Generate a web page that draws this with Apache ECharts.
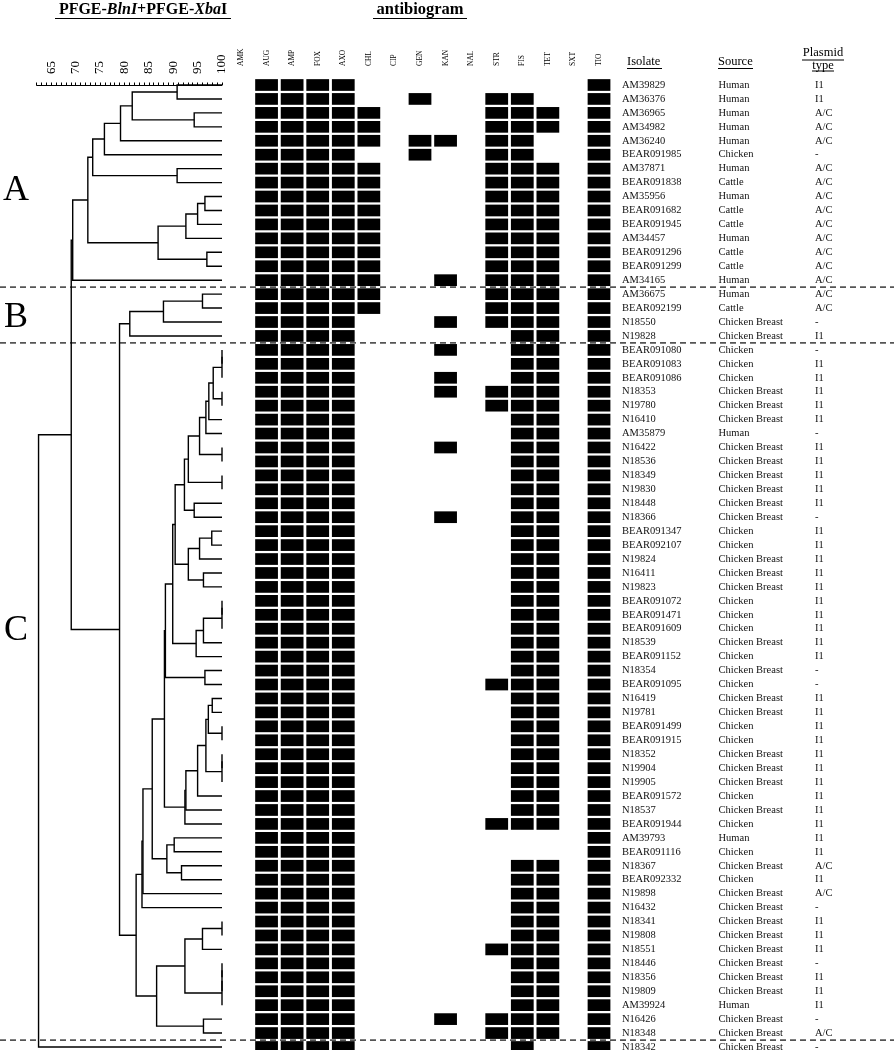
<!DOCTYPE html>
<html><head><meta charset="utf-8">
<script src="https://cdn.jsdelivr.net/npm/echarts@6/dist/echarts.min.js"></script>
<style>html,body{margin:0;padding:0;background:#fff}#c{width:894px;height:1050px}</style>
</head><body><div id="c"></div>
<script>
// ---------------- data ----------------
const antibiotics = ['AMK','AUG','AMP','FOX','AXO','CHL','CIP','GEN','KAN','NAL','STR','FIS','TET','SXT','TIO'];
const isolates = ['AM39829','AM36376','AM36965','AM34982','AM36240','BEAR091985','AM37871','BEAR091838','AM35956','BEAR091682',
 'BEAR091945','AM34457','BEAR091296','BEAR091299','AM34165','AM36675','BEAR092199','N18550','N19828','BEAR091080',
 'BEAR091083','BEAR091086','N18353','N19780','N16410','AM35879','N16422','N18536','N18349','N19830',
 'N18448','N18366','BEAR091347','BEAR092107','N19824','N16411','N19823','BEAR091072','BEAR091471','BEAR091609',
 'N18539','BEAR091152','N18354','BEAR091095','N16419','N19781','BEAR091499','BEAR091915','N18352','N19904',
 'N19905','BEAR091572','N18537','BEAR091944','AM39793','BEAR091116','N18367','BEAR092332','N19898','N16432',
 'N18341','N19808','N18551','N18446','N18356','N19809','AM39924','N16426','N18348','N18342'];
const CB = 'Chicken Breast';
const sources = ['Human','Human','Human','Human','Human','Chicken','Human','Cattle','Human','Cattle',
 'Cattle','Human','Cattle','Cattle','Human','Human','Cattle',CB,CB,'Chicken',
 'Chicken','Chicken',CB,CB,CB,'Human',CB,CB,CB,CB,
 CB,CB,'Chicken','Chicken',CB,CB,CB,'Chicken','Chicken','Chicken',
 CB,'Chicken',CB,'Chicken',CB,CB,'Chicken','Chicken',CB,CB,
 CB,'Chicken',CB,'Chicken','Human','Chicken',CB,'Chicken',CB,CB,
 CB,CB,CB,CB,CB,CB,'Human',CB,CB,CB];
const plasmidTypes = ['I1','I1','A/C','A/C','A/C','-','A/C','A/C','A/C','A/C',
 'A/C','A/C','A/C','A/C','A/C','A/C','A/C','-','I1','-',
 'I1','I1','I1','I1','I1','-','I1','I1','I1','I1',
 'I1','-','I1','I1','I1','I1','I1','I1','I1','I1',
 'I1','I1','-','-','I1','I1','I1','I1','I1','I1',
 'I1','I1','I1','I1','I1','I1','A/C','I1','A/C','-',
 'I1','I1','I1','-','I1','I1','I1','-','A/C','-'];
// resistance profile per isolate, one character per antibiotic (1 = resistant)
const resistance = [
 '011110000000001','011110010011001','011111000011101','011111000011101','011111011011001',
 '011110010011001','011111000011101','011111000011101','011111000011101','011111000011101',
 '011111000011101','011111000011101','011111000011101','011111000011101','011111001011101',
 '011111000011101','011111000011101','011110001011101','011110000001101','011110001001101',
 '011110000001101','011110001001101','011110001011101','011110000011101','011110000001101',
 '011110000001101','011110001001101','011110000001101','011110000001101','011110000001101',
 '011110000001101','011110001001101','011110000001101','011110000001101','011110000001101',
 '011110000001101','011110000001101','011110000001101','011110000001101','011110000001101',
 '011110000001101','011110000001101','011110000001101','011110000011101','011110000001101',
 '011110000001101','011110000001101','011110000001101','011110000001101','011110000001101',
 '011110000001101','011110000001101','011110000001101','011110000011101','011110000000001',
 '011110000000001','011110000001101','011110000001101','011110000001101','011110000001101',
 '011110000001101','011110000001101','011110000011101','011110000001101','011110000001101',
 '011110000001101','011110000001101','011110001011101','011110000011101','011110000001001'];
const scaleTicks = [65,70,75,80,85,90,95,100];
// dendrogram linkage: [nodeA, nodeB, % similarity]; leaves are 0..69, merge k creates node 70+k
const linkage = [
 [0,1,90.8],[2,3,94.3],[70,71,81.6],[72,4,79.2],[73,5,75.9],[6,7,90.8],[74,75,73.5],
 [8,9,96.5],[77,10,95.0],[78,11,92.6],[12,13,96.9],[79,80,86.9],[76,81,72.5],[82,14,69.4],
 [15,16,96.0],[84,17,88.0],[85,18,81.1],
 [19,20,100],[87,21,100],[22,23,100],[88,89,98.2],[90,24,97.3],[91,25,96.7],[26,27,100],
 [92,93,95.4],[28,29,100],[94,95,93.1],[30,31,94.3],[96,97,92.3],[32,33,97.9],[99,34,95.4],
 [35,36,96.2],[100,101,93.1],[98,102,90.4],[37,38,100],[104,39,100],[105,40,96.2],[106,41,94.7],
 [103,107,89.9],[42,43,96.5],[108,109,88.4],
 [44,45,98.0],[46,47,100],[111,112,97.2],[48,49,100],[114,50,100],[113,115,96.7],[116,51,95.0],
 [117,52,92.6],[118,53,92.4],[110,119,88.2],[54,55,90.2],[56,57,91.7],[121,122,88.7],
 [120,123,85.7],[124,58,83.8],[125,59,83.6],
 [60,61,100],[127,62,96.0],[63,64,100],[129,65,100],[130,66,100],[128,131,92.4],[67,68,96.2],
 [132,133,86.6],[126,134,82.4],[86,135,79.0],[83,136,69.1],[137,69,62.4]];
const groupNames = ['A','B','C'];
const groupLabelRows = [7.6, 16.7, 39.1];
const groupBreakRows = [14.5, 18.5, 68.5];

// ---------------- derived series data ----------------
const nLeaves = isolates.length;
const nodeX = [], nodeY = [];
for (let i = 0; i < nLeaves; i++) { nodeX[i] = 100; nodeY[i] = i; }
const treeData = linkage.map((m, k) => {
  const [a, b, s] = m;
  nodeX[nLeaves + k] = s;
  nodeY[nLeaves + k] = (nodeY[a] + nodeY[b]) / 2;
  return [nodeX[a], nodeY[a], s, nodeY[b], nodeX[b]];
});
const cellData = [];
resistance.forEach((prof, r) => { for (let c = 0; c < prof.length; c++) if (prof[c] === '1') cellData.push([c, r]); });
const tableCols = [isolates, sources, plasmidTypes];
const tableData = [];
for (let r = 0; r < nLeaves; r++) for (let c = 0; c < 3; c++) tableData.push([c, r]);
const minorTicks = []; for (let v = 62; v <= 100; v++) minorTicks.push(v);

const FONT = 'Liberation Serif';
const TOP = 85, H = 962;
const yAx = (gi) => ({ gridIndex: gi, type: 'value', min: 0, max: nLeaves - 1, inverse: true, show: false });

const chart = echarts.init(document.getElementById('c'));
chart.setOption({
  animation: false,
  backgroundColor: '#fff',
  grid: [
    { left: 36.6, width: 185.4, top: TOP, height: H },
    { left: 228.2, width: 383.6, top: TOP, height: H },
    { left: 622, width: 193, top: TOP, height: H }
  ],
  xAxis: [
    { gridIndex: 0, type: 'value', min: 62, max: 100, position: 'top', offset: 7,
      axisLine: { show: true, lineStyle: { color: '#000', width: 1 } },
      axisTick: { show: true, customValues: minorTicks, length: 2.5, inside: false, lineStyle: { color: '#000', width: 1 } },
      axisLabel: { customValues: scaleTicks, rotate: 90, fontSize: 13, fontFamily: FONT, color: '#000', margin: 4 },
      splitLine: { show: false } },
    { gridIndex: 1, type: 'category', data: antibiotics, position: 'top',
      axisLine: { show: false }, axisTick: { show: false },
      axisLabel: { interval: 0, rotate: 90, fontSize: 7.5, fontFamily: FONT, color: '#000', margin: 19 },
      splitLine: { show: false } },
    { gridIndex: 2, type: 'value', min: 0, max: 2, show: false }
  ],
  yAxis: [yAx(0), yAx(1), yAx(2)],
  series: [
    { type: 'custom', xAxisIndex: 0, yAxisIndex: 0, data: treeData, encode: { x: [0, 2, 4], y: [1, 3] },
      renderItem: (params, api) => {
        const p = [api.coord([api.value(0), api.value(1)]), api.coord([api.value(2), api.value(1)]),
                   api.coord([api.value(2), api.value(3)]), api.coord([api.value(4), api.value(3)])];
        return { type: 'polyline', shape: { points: p }, style: { stroke: '#000', lineWidth: 1.4, fill: null } };
      } },
    { type: 'custom', xAxisIndex: 1, yAxisIndex: 1, data: cellData, encode: { x: 0, y: 1 },
      renderItem: (params, api) => {
        const p = api.coord([api.value(0), api.value(1)]);
        const sz = api.size([1, 1]);
        const w = sz[0] * 0.89, h = sz[1] * 0.84;
        return { type: 'rect', shape: { x: p[0] - w / 2, y: p[1] - h / 2, width: w, height: h }, style: { fill: '#000' } };
      } },
    { type: 'custom', xAxisIndex: 2, yAxisIndex: 2, data: tableData, encode: { x: 0, y: 1 },
      renderItem: (params, api) => {
        const c = api.value(0), r = api.value(1);
        const p = api.coord([c, r]);
        return { type: 'text', x: p[0], y: p[1],
          style: { text: tableCols[c][r], fill: '#111', fontSize: 10.5, fontFamily: FONT,
                   textAlign: 'left', align: 'left', textVerticalAlign: 'middle', verticalAlign: 'middle' } };
      } }
  ]
});

// ---------------- annotations ----------------
const yPix = (row) => chart.convertToPixel({ yAxisIndex: 0 }, row);
const g = [];
const txt = (x, y, text, size, extra) => g.push(Object.assign({ type: 'text', x: x, y: y,
  style: Object.assign({ text: text, fill: '#000', fontSize: size, fontFamily: FONT,
    textAlign: 'center', align: 'center', textVerticalAlign: 'middle', verticalAlign: 'middle' }, extra || {}) }));
const uline = (x1, x2, y) => g.push({ type: 'line', shape: { x1: x1, y1: y, x2: x2, y2: y }, style: { stroke: '#000', lineWidth: 1 } });

g.push({ type: 'text', x: 143, y: 10, style: {
  text: '{b|PFGE-}{bi|BlnI}{b|+PFGE-}{bi|Xba}{b|I}', fill: '#000',
  textAlign: 'center', align: 'center', textVerticalAlign: 'middle', verticalAlign: 'middle',
  rich: { b: { fontSize: 16, fontWeight: 'bold', fontFamily: FONT, fill: '#000' },
          bi: { fontSize: 16, fontWeight: 'bold', fontStyle: 'italic', fontFamily: FONT, fill: '#000' } } } });
uline(55, 231, 18.5);
txt(420, 10, 'antibiogram', 16.5, { fontWeight: 'bold' });
uline(373, 467, 18.5);
txt(627, 62, 'Isolate', 12.5, { textAlign: 'left', align: 'left' });
uline(627, 662, 68.5);
txt(718, 62, 'Source', 12.5, { textAlign: 'left', align: 'left' });
uline(718, 753, 68.5);
txt(823, 53, 'Plasmid', 12.5);
uline(802, 844, 60);
txt(823, 65.5, 'type', 12.5);
uline(812, 834, 71);
groupNames.forEach((n, i) => txt(16, yPix(groupLabelRows[i]), n, 36));
groupBreakRows.forEach((r) => {
  const y = yPix(r);
  g.push({ type: 'line', shape: { x1: 0, y1: y, x2: 894, y2: y }, style: { stroke: '#555', lineWidth: 1.8, lineDash: [6, 4] } });
});
chart.setOption({ graphic: g });
</script></body></html>
